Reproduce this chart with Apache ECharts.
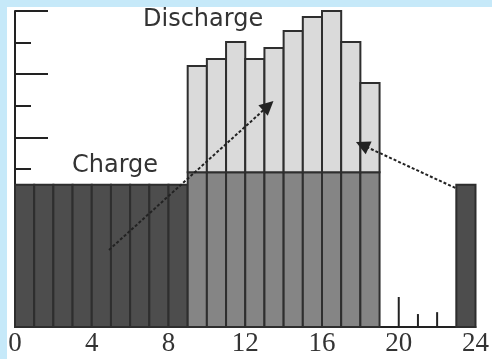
<!DOCTYPE html>
<html><head><meta charset="utf-8">
<script src="https://cdn.jsdelivr.net/npm/echarts@6/dist/echarts.min.js"></script>
<style>html,body{margin:0;padding:0;background:#c6e9f9;}#c{position:absolute;left:7px;top:7px;width:485px;height:352px;background:#fff;}#main{width:492px;height:359px;position:absolute;left:0;top:0;}</style>
</head><body>
<div id="c"></div>
<div id="main"></div>
<script>
// hour index 0..23
const hours = [0,1,2,3,4,5,6,7,8,9,10,11,12,13,14,15,16,17,18,19,20,21,22,23];
const chargeVals = [4.5,4.5,4.5,4.5,4.5,4.5,4.5,4.5,4.5,null,null,null,null,null,null,null,null,null,null,null,null,null,null,4.5];
const baseVals = [null,null,null,null,null,null,null,null,null,4.9,4.9,4.9,4.9,4.9,4.9,4.9,4.9,4.9,4.9,null,null,null,null,null];
const dischargeVals = [null,null,null,null,null,null,null,null,null,8.26,8.48,9.02,8.48,8.83,9.37,9.81,10.0,9.02,7.72,null,null,null,null,null];
const spikeVals = [null,null,null,null,null,null,null,null,null,null,null,null,null,null,null,null,null,null,null,null,0.95,0.41,0.47,null];
const xTicks = [0,4,8,12,16,20,24];
const arrow1 = [[4.9,2.44],[13.2,7.0]];
const arrow2 = [[22.95,4.4],[18.1,5.76]];

function pairs(vals){ return hours.map((h,i)=>vals[i]==null?null:[h,vals[i]]).filter(d=>d); }

function rectItem(fill, lowFn){
  return function(params, api){
    const h = api.value(0), v = api.value(1);
    const lo = lowFn(h);
    const p0 = api.coord([h, lo]);
    const p1 = api.coord([h+1, v]);
    return {type:'rect', shape:{x:p0[0], y:p1[1], width:p1[0]-p0[0], height:p0[1]-p1[1]},
      style:{fill:fill, stroke:'#2e2e2e', lineWidth:2}};
  };
}

const chart = echarts.init(document.getElementById('main'), null, {renderer:'canvas'});
chart.setOption({
  animation:false,
  backgroundColor:'transparent',
  grid:{left:15, right:14, top:11, bottom:32},
  xAxis:{type:'value', min:0, max:24, interval:4,
    axisLine:{show:true, lineStyle:{color:'#222', width:2}},
    axisTick:{show:false}, splitLine:{show:false},
    axisLabel:{color:'#333', fontFamily:'Liberation Serif', fontSize:27, margin:3,
      formatter:v=>xTicks.includes(v)?String(v):''}},
  yAxis:{type:'value', min:0, max:10, interval:2,
    axisLine:{show:true, lineStyle:{color:'#222', width:2}},
    axisTick:{show:true, inside:true, length:33, lineStyle:{color:'#222', width:2}},
    minorTick:{show:true, splitNumber:2, length:16, lineStyle:{color:'#222', width:2}},
    axisLabel:{show:false}, splitLine:{show:false}},
  graphic:[
    {type:'text', left:143, top:8, style:{text:'Discharge', font:'24px "DejaVu Sans"', fill:'#333'}},
    {type:'text', left:72, top:154, style:{text:'Charge', font:'24px "DejaVu Sans"', fill:'#333'}}
  ],
  series:[
    {type:'custom', renderItem:rectItem('#4d4d4d', ()=>0), data:pairs(chargeVals), z:3},
    {type:'custom', renderItem:rectItem('#858585', ()=>0), data:pairs(baseVals), z:3},
    {type:'custom', renderItem:rectItem('#dadada', (h)=>baseVals[h]), data:pairs(dischargeVals), z:3},
    {type:'custom', renderItem:function(params, api){
        const h = api.value(0), v = api.value(1);
        const p0 = api.coord([h,0]), p1 = api.coord([h,v]);
        return {type:'line', shape:{x1:p0[0], y1:p0[1], x2:p1[0], y2:p1[1]}, style:{stroke:'#222', lineWidth:2}};
      }, data:pairs(spikeVals), z:3},
    {type:'lines', coordinateSystem:'cartesian2d', z:5,
      symbol:['none','triangle'], symbolSize:14,
      lineStyle:{color:'#222', width:2, type:[3,2], opacity:1},
      data:[{coords:arrow1},{coords:arrow2}]}
  ]
});
</script>
</body></html>
